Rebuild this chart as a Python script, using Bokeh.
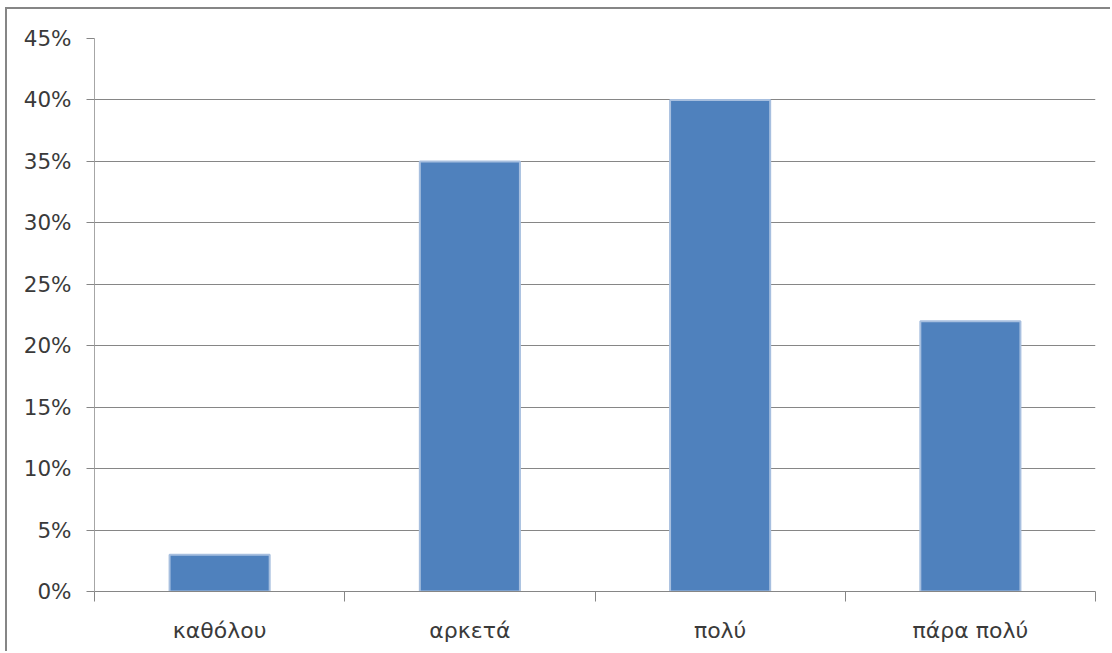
import numpy as np
from bokeh.plotting import figure
from bokeh.models import FixedTicker, NumeralTickFormatter, Range1d, ColumnDataSource
from bokeh.embed import file_html
from bokeh.resources import INLINE

# Survey answers and their share of respondents
categories = ["καθόλου", "αρκετά", "πολύ", "πάρα πολύ"]
shares = [0.03, 0.35, 0.40, 0.22]
y_ticks = [0.0, 0.05, 0.10, 0.15, 0.20, 0.25, 0.30, 0.35, 0.40, 0.45]

centers = np.arange(len(categories)) + 0.5
bounds = list(np.arange(len(categories) + 1).astype(float))

source = ColumnDataSource(dict(x=centers, top=shares, label=categories))

GRID = "#868686"
TEXT = "#3a3a3a"
FONT = "DejaVu Sans"

p = figure(
    width=1105, height=644,
    x_range=Range1d(0, len(categories)), y_range=Range1d(0, 0.45),
    output_backend="svg", toolbar_location=None,
    min_border_left=87, min_border_right=17, min_border_top=29, min_border_bottom=62,
)
p.margin = (7, 0, 0, 5)
p.styles = {"border-top": f"2px solid {GRID}", "border-left": f"2px solid {GRID}"}
p.outline_line_color = None
p.background_fill_color = "white"
p.border_fill_color = "white"

p.vbar(x="x", top="top", width=0.40, source=source,
       fill_color="#4F81BD", line_color="#A7BFDF", line_width=2)

# value axis
p.yaxis.ticker = FixedTicker(ticks=y_ticks)
p.yaxis.formatter = NumeralTickFormatter(format="0%")
p.yaxis.axis_line_color = "#A6A6A6"
p.yaxis.major_tick_line_color = GRID
p.yaxis.major_tick_out = 8
p.yaxis.major_tick_in = 0
p.yaxis.minor_tick_line_color = None
p.yaxis.major_label_standoff = 15
p.yaxis.major_label_text_font = FONT
p.yaxis.major_label_text_font_size = "21.5px"
p.yaxis.major_label_text_color = TEXT

# category axis: labels at centers, tick marks between categories
p.xaxis.ticker = FixedTicker(ticks=list(centers), minor_ticks=bounds)
p.xaxis.major_label_overrides = {float(c): lab for c, lab in zip(centers, categories)}
p.xaxis.axis_line_color = GRID
p.xaxis.major_tick_line_color = None
p.xaxis.major_tick_out = 0
p.xaxis.major_tick_in = 0
p.xaxis.minor_tick_line_color = GRID
p.xaxis.minor_tick_out = 10
p.xaxis.minor_tick_in = 0
p.xaxis.major_label_standoff = 16
p.xaxis.major_label_text_font = FONT
p.xaxis.major_label_text_font_size = "22px"
p.xaxis.major_label_text_color = TEXT

p.xgrid.grid_line_color = None
p.ygrid.ticker = FixedTicker(ticks=y_ticks)
p.ygrid.grid_line_color = GRID
p.ygrid.grid_line_width = 1

open("out.html", "w").write(file_html(p, INLINE))
